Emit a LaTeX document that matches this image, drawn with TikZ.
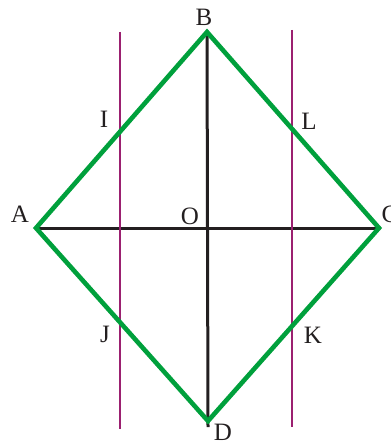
\documentclass[tikz,border=0pt]{standalone}
\usepackage{fontspec}
\setmainfont{Liberation Serif}
\definecolor{rgreen}{RGB}{0,160,60}
\definecolor{rpurple}{RGB}{155,32,112}
\definecolor{rblack}{RGB}{35,31,32}
\begin{document}
\begin{tikzpicture}[x=1pt,y=-1pt,
  side/.style={draw=rgreen,line width=4.6pt,line join=miter},
  axis/.style={draw=rblack,line width=3pt},
  par/.style={draw=rpurple,line width=2.6pt},
  lbl/.style={font=\fontsize{25}{25}\selectfont,text=rblack,inner sep=0pt}]
\useasboundingbox (0,0) rectangle (390,443);
\coordinate (A) at (36,228);
\coordinate (B) at (207,32);
\coordinate (C) at (379,228);
\coordinate (D) at (208,421);
\coordinate (Dt) at (208,427);
\coordinate (P1) at (120,32);
\coordinate (P2) at (120,429);
\coordinate (Q1) at (292,30);
\coordinate (Q2) at (292,427);
\draw[axis] (B) -- (Dt);
\draw[axis] (A) -- (C);
\draw[par] (P1) -- (P2);
\draw[par] (Q1) -- (Q2);
\draw[side] (A) -- (B) -- (C) -- (D) -- cycle;
\node[lbl] (lA) at (20,214) {A};
\node[lbl] (lB) at (204,17) {B};
\node[lbl] (lC) at (390,214) {C};
\node[lbl] (lD) at (223,432) {D};
\node[lbl] (lO) at (190,216) {O};
\node[lbl] (lI) at (104,119) {I};
\node[lbl] (lL) at (309,121) {L};
\node[lbl] (lJ) at (105,334) {J};
\node[lbl] (lK) at (313,335) {K};
\end{tikzpicture}
\end{document}
